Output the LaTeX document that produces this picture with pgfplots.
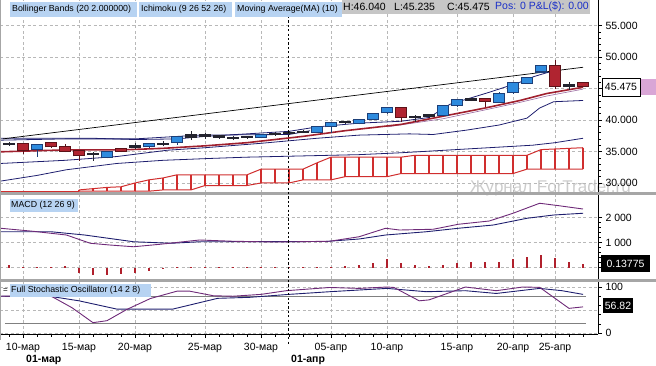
\documentclass[border=0pt]{standalone}
\usepackage{fontspec}
\setmainfont{Liberation Sans}
\usepackage{pgfplots}
\usepackage{pgfplotstable}
\pgfplotsset{compat=1.18}

\definecolor{bluec}{HTML}{2E8BDE}
\definecolor{bluee}{HTML}{1C3F78}
\definecolor{redc}{HTML}{B02430}
\definecolor{rede}{HTML}{5C1218}
\definecolor{darkc}{HTML}{23232E}
\definecolor{navy}{HTML}{1E1E6E}
\definecolor{purp}{HTML}{6E2A78}
\definecolor{mared}{HTML}{A0202E}
\definecolor{cloudc}{HTML}{D02E2E}
\definecolor{gridc}{HTML}{B8B8B8}
\definecolor{sepc}{HTML}{A6A6A6}
\definecolor{hdrblue}{HTML}{B7D3F2}
\definecolor{hdrgray}{HTML}{C6C6C6}
\definecolor{pinkbox}{HTML}{D9A6D6}
\definecolor{histc}{HTML}{B0202C}
\definecolor{posblue}{HTML}{1A2FC8}

% candles: index o h l c
\pgfplotstableread{
i o h l c
1 35.45 36.1 34.2 35.98
6 34.2 35.0 33.9 34.9
9 35.8 36.3 35.6 36.2
11 36.5 37.4 36.1 37.25
17 37.25 37.7 37.1 37.6
21 38.14 39.0 38.0 38.94
22 39.0 39.6 38.0 39.5
24 39.5 40.1 39.3 40.0
25 40.2 41.0 40.0 40.9
26 41.2 42.0 41.0 41.85
30 40.8 42.3 40.6 42.2
31 42.4 43.3 42.0 43.1
34 42.9 44.4 42.8 44.2
35 44.4 45.9 44.2 45.8
36 45.9 46.8 45.7 46.6
37 47.7 48.6 47.4 48.55
}\bull
\pgfplotstableread{
i o h l c
0 36.14 36.3 34.6 35.24
2 36.3 36.5 35.6 35.8
3 35.7 36.2 34.9 35.15
4 35.1 35.3 33.5 34.4
7 35.35 35.5 34.9 35.1
27 41.85 41.9 39.7 40.45
33 43.3 43.4 42.1 43.0
38 48.55 49.6 44.9 45.4
40 45.85 46.04 45.235 45.475
}\bear
\pgfplotstableread{
i o h l c
-1 36.15 36.5 35.9 36.25
5 34.55 34.9 33.5 34.65
8 35.75 36.3 35.4 35.85
10 36.15 36.6 35.8 36.25
12 37.3 38.2 36.8 37.6
13 37.5 37.9 37.0 37.6
14 37.25 37.6 37.0 37.45
15 37.15 37.4 36.8 37.25
16 37.25 37.5 37.0 37.35
18 37.75 38.1 37.5 37.85
19 37.95 38.3 37.6 38.05
20 38.1 38.4 37.9 38.2
23 39.6 39.9 39.4 39.7
28 40.45 40.8 39.7 40.55
29 40.55 41.0 40.3 40.8
32 43.2 43.5 43.0 43.3
39 45.3 46.1 44.8 45.55
}\doji
% Ichimoku cloud: senkou A (top), senkou B (bot)
\pgfplotstableread{
i top bot
4 28.9 28.7
5 29.1 28.7
6 29.3 28.7
7 29.4 28.7
8 30.0 28.7
9 30.5 28.7
10 30.8 28.9
11 31.3 28.9
12 31.3 28.9
13 31.3 29.6
14 31.3 29.6
15 31.3 29.6
16 31.3 29.6
17 32.2 30.0
18 32.2 30.0
19 32.2 30.0
20 32.2 30.5
21 33.2 30.5
22 34.1 30.5
23 34.1 31.0
24 34.1 31.0
25 34.1 31.0
26 34.1 31.0
27 34.1 31.5
28 34.4 31.5
29 34.4 31.5
30 34.4 31.5
31 34.4 31.5
32 34.4 31.5
33 34.4 31.5
34 34.4 31.5
35 34.4 31.5
36 34.4 32.2
37 35.3 32.2
38 35.4 32.2
39 35.5 32.2
40 35.6 32.2
}\cloud
% MACD histogram
\pgfplotstableread{
i v
-1 0.10
0 0.02
1 0.02
2 0.02
3 0.06
4 -0.20
5 -0.28
6 -0.30
7 -0.25
8 -0.20
9 -0.12
10 -0.04
11 0.02
12 0.03
13 0.02
14 0.02
15 0.02
16 0.02
17 0.02
18 0.01
19 0.01
20 0.02
21 0.03
22 0.04
23 0.08
24 0.12
25 0.20
26 0.34
27 0.20
28 0.10
29 0.07
30 0.10
31 0.20
32 0.23
33 0.23
34 0.23
35 0.34
36 0.43
37 0.50
38 0.40
39 0.23
40 0.138
}\hist

\pgfplotsset{
  panel/.style={
    scale only axis, width=598pt, xmin=-1.643, xmax=41.07,
    axis y line*=right, y axis line style={-, black, line width=0.6pt},
    tick align=outside,
    xtick={0,4,8,13,17,22,26,31,35,38},
    xmajorgrids, ymajorgrids,
    major grid style={gridc, dash pattern=on 3pt off 2.5pt, line width=0.5pt},
    yticklabel style={font=\fontsize{10.5}{12}\selectfont},
    ytick style={black, line width=0.5pt},
    major tick length=4pt, minor tick length=2.5pt,
  },
  noxaxis/.style={axis x line*=bottom, x axis line style={draw=none},
    xticklabels={}, xtick style={draw=none}},
  candle/.style={draw=none, forget plot, error bars/y dir=plus, error bars/y explicit, error bars/error mark=none},
}

\begin{document}
\begin{tikzpicture}
% watermark
\node[anchor=base west, inner sep=0, text=gray!40, font=\fontsize{17}{19}\selectfont] at (470pt,-192pt) {Журнал ForTrader.ru};

% ---------------- main price panel ----------------
\begin{axis}[panel, noxaxis, at={(0pt,0pt)}, anchor=north west, height=193pt,
  ymin=28.41, ymax=59.05,
  ytick={30,35,40,45,50,55}, yticklabels={30.000,35.000,40.000,,50.000,55.000},
  minor y tick num=4]
% cloud (hatch as vertical segments from senkou B to senkou A)
\addplot[cloudc, line width=1.2pt, -, quiver={u=0, v=\thisrow{top}-\thisrow{bot}}]
  table[x=i, y=bot] {\cloud};
\addplot[cloudc, line width=1pt] table[x=i, y=top] {\cloud};
\addplot[cloudc, line width=1pt] coordinates {(-1.6,28.7) (4,28.7)};
\addplot[cloudc, line width=1pt] table[x=i, y=bot] {\cloud};
% bands and lines
\addplot[navy, line width=0.8pt] coordinates {(-1.6,30.3) (1,31.2) (3.1,32.1) (6.7,33.1) (10,33.6) (13.4,33.9) (16,34.1) (20,34.3) (24,34.5) (27,34.8) (31.7,35.4) (36.4,36.0) (38,36.4) (40,37.1)};
\addplot[navy, line width=0.8pt] coordinates {(-1.6,33.1) (3,33.6) (6.7,34.2) (10.3,35.2) (13,35.6) (17,36.3) (21,37.1) (24,37.6) (27.6,37.8) (29.3,37.7) (31.7,38.4) (34,39.2) (36,40.3) (36.9,41.9) (37.9,42.9) (40,43.1)};
\addplot[navy, line width=0.8pt] coordinates {(-1.6,36.8) (3,37.0) (8,37.0) (12.6,37.6) (19,37.7) (20.5,38.3)};
\addplot[navy, line width=0.8pt] coordinates {(-1.6,37.1) (5,37.1) (8,36.9) (11,37.0) (13,37.4) (16,37.8) (19,38.2) (21,38.9) (24,39.5) (27,39.8) (29,40.4) (30.5,42.5) (33.3,44.4) (35.5,46.0) (36.5,46.9) (37.4,47.5) (38,47.8)};
\addplot[black, line width=0.7pt] coordinates {(-1.45,37.0) (40,48.37)};
\addplot[purp!70, line width=0.6pt] coordinates {(26,38.9) (30,40.2) (33,41.6) (35.5,42.8) (37.4,43.8) (40,44.9)};
\addplot[mared, line width=1.6pt] coordinates {(-1.6,34.95) (3,35.25) (7,35.25) (10,35.5) (13,35.9) (16,36.4) (20,37.4) (23,38.3) (27,39.3) (30,40.6) (33,41.9) (35.5,43.1) (37.4,44.2) (40,45.2)};
% wicks
\addplot[candle, error bars/error bar style={draw=bluee, line width=0.9pt}]
  table[x=i, y=l, y error plus expr=\thisrow{h}-\thisrow{l}] {\bull};
\addplot[candle, error bars/error bar style={draw=rede, line width=0.9pt}]
  table[x=i, y=l, y error plus expr=\thisrow{h}-\thisrow{l}] {\bear};
\addplot[candle, error bars/error bar style={draw=darkc, line width=0.9pt}]
  table[x=i, y=l, y error plus expr=\thisrow{h}-\thisrow{l}] {\doji};
% bodies
\addplot[candle, error bars/error bar style={draw=bluee, line width=11.4pt}]
  table[x=i, y expr=\thisrow{o}-0.16, y error plus expr=\thisrow{c}-\thisrow{o}+0.32] {\bull};
\addplot[candle, error bars/error bar style={draw=bluec, line width=9.4pt}]
  table[x=i, y=o, y error plus expr=\thisrow{c}-\thisrow{o}] {\bull};
\addplot[candle, error bars/error bar style={draw=rede, line width=11.4pt}]
  table[x=i, y expr=\thisrow{c}-0.16, y error plus expr=\thisrow{o}-\thisrow{c}+0.32] {\bear};
\addplot[candle, error bars/error bar style={draw=redc, line width=9.4pt}]
  table[x=i, y=c, y error plus expr=\thisrow{o}-\thisrow{c}] {\bear};
\addplot[candle, error bars/error bar style={draw=darkc, line width=11.4pt}]
  table[x=i, y expr=\thisrow{o}-0.12, y error plus expr=\thisrow{c}-\thisrow{o}+0.24] {\doji};
\end{axis}

% ---------------- MACD panel ----------------
\begin{axis}[panel, noxaxis, at={(0pt,-195pt)}, anchor=north west, height=84pt,
  ymin=-0.46, ymax=2.9,
  ytick={0,1,2}, yticklabels={,1 000,2 000}, minor y tick num=4]
\addplot[histc, ycomb, line width=1.1pt] table[x=i, y=v] {\hist};
\addplot[navy, line width=0.9pt] coordinates {(-1.6,1.43) (2,1.43) (4.4,1.3) (7.9,1.03) (10.6,0.97) (12.6,1.03) (21.6,1.04) (24,1.14) (25.9,1.3) (28.8,1.43) (31.1,1.57) (33.6,1.7) (36,1.97) (37.9,2.1) (40,2.17)};
\addplot[purp, line width=0.9pt] coordinates {(-1.6,1.57) (0.7,1.45) (3.1,1.3) (4.8,0.97) (6.2,0.9) (7.9,0.83) (9.8,0.93) (12.6,1.1) (15,1.05) (18,1.02) (21.9,1.05) (24,1.23) (25.9,1.57) (26.9,1.5) (29.3,1.53) (31.1,1.73) (33.3,1.86) (35,2.17) (36.9,2.57) (38.3,2.47) (40,2.34)};
\end{axis}

% ---------------- Stochastic panel ----------------
\begin{axis}[panel, at={(0pt,-282pt)}, anchor=north west, height=52pt,
  ymin=-2.17, ymax=110.9,
  axis x line*=bottom, x axis line style={-, black, line width=0.8pt},
  xticklabels={10-мар,15-мар,20-мар,25-мар,30-мар,05-апр,10-апр,15-апр,20-апр,25-апр},
  xticklabel style={font=\fontsize{10.5}{12}\selectfont, yshift=-2pt},
  minor xtick={-1,0,...,40}, xtick style={black, line width=0.5pt},
  ytick={0,100}, yticklabels={0,100}, minor y tick num=4,
  extra y ticks={50}, extra y tick labels={}, extra y tick style={major tick length=0pt}]
\addplot[gray, line width=0.7pt] coordinates {(-1.3,80) (40.2,80)};
\addplot[gray, line width=0.7pt] coordinates {(-1.3,20) (40.2,20)};
\addplot[navy, line width=0.9pt] coordinates {(-1.6,80) (1.9,80) (4,70) (6.7,52) (10.7,52) (13.9,75.4) (16.2,77.6) (19,84) (21.9,89.8) (26,97) (28.8,89.8) (31.6,92) (33.8,86) (36.9,97) (38.5,92) (40,84)};
\addplot[purp, line width=0.9pt] coordinates {(-1.6,80) (1.9,82) (3.5,55) (5,22.5) (6,26.8) (7.4,51) (9.1,75) (11,91) (11.9,91) (13.6,81) (15,80) (17,84) (18.8,92) (21.9,99) (24,97) (26,100) (26.5,99) (28.3,70) (29,72) (31.6,100) (33.8,92) (35.7,100) (36.9,99.3) (39,53.6) (40,56.82)};
\end{axis}

% separators and frame
\fill[sepc] (0pt,-192pt) rectangle (656pt,-195pt);
\fill[sepc] (0pt,-279pt) rectangle (656pt,-282pt);
\draw[sepc, line width=1pt] (0.5pt,0pt) -- (0.5pt,-340pt);
% month separator (01-apr)
\draw[black, line width=0.8pt, dash pattern=on 2.2pt off 2.2pt] (288pt,-16pt) -- (288pt,-345pt);

% header
\fill[hdrblue] (10pt,-2pt) rectangle (137pt,-17pt);
\fill[hdrblue] (139pt,-2pt) rectangle (232pt,-17pt);
\fill[hdrblue] (235pt,-2pt) rectangle (342pt,-17pt);
\fill[hdrgray] (342pt,0pt) rectangle (590pt,-14pt);
\node[anchor=west, inner sep=0, font=\fontsize{8.8}{10}\selectfont] at (12pt,-9.5pt) {Bollinger Bands (20 2.000000)};
\node[anchor=west, inner sep=0, font=\fontsize{8.8}{10}\selectfont] at (141pt,-9.5pt) {Ichimoku (9 26 52 26)};
\node[anchor=west, inner sep=0, font=\fontsize{8.8}{10}\selectfont] at (237pt,-9.5pt) {Moving Average(MA) (10)};
\node[anchor=west, inner sep=0, font=\fontsize{10.5}{12}\selectfont] at (343pt,-7pt) {H:46.040};
\node[anchor=west, inner sep=0, font=\fontsize{10.5}{12}\selectfont] at (394pt,-7pt) {L:45.235};
\node[anchor=west, inner sep=0, font=\fontsize{10.5}{12}\selectfont] at (447pt,-7pt) {C:45.475};
\node[anchor=west, inner sep=0, text=posblue, font=\fontsize{10.5}{12}\selectfont] at (495pt,-7pt) {Pos: 0 P\&L(\$): 0.00};

% panel labels
\fill[hdrblue] (10pt,-199pt) rectangle (78pt,-212pt);
\node[anchor=west, inner sep=0, font=\fontsize{8.8}{10}\selectfont] at (11pt,-205.5pt) {MACD (12 26 9)};
\fill[hdrblue] (10pt,-284pt) rectangle (151pt,-297pt);
\node[anchor=west, inner sep=0, font=\fontsize{8.8}{10}\selectfont] at (11pt,-290.5pt) {Full Stochastic Oscillator (14 2 8)};
\node[anchor=west, inner sep=0, font=\fontsize{8}{9}\selectfont] at (3pt,-291pt) {=};

% right value boxes
\fill[pinkbox] (640pt,-79pt) rectangle (656pt,-95pt);
\draw[black, fill=white, line width=0.8pt] (602pt,-78pt) rectangle (640pt,-96pt);
\node[inner sep=0, font=\fontsize{10.5}{12}\selectfont] at (621pt,-87pt) {45.475};
\fill[black] (601pt,-255pt) rectangle (650pt,-272pt);
\node[inner sep=0, text=white, font=\fontsize{10.5}{12}\selectfont] at (625.5pt,-263.5pt) {0.13775};
\fill[black] (603pt,-298pt) rectangle (633pt,-313pt);
\node[inner sep=0, text=white, font=\fontsize{10.5}{12}\selectfont] at (618pt,-305.5pt) {56.82};

% second row of date labels
\node[anchor=west, inner sep=0, font=\fontsize{10.5}{12}\selectfont\bfseries] at (26pt,-360pt) {01-мар};
\node[anchor=west, inner sep=0, font=\fontsize{10.5}{12}\selectfont\bfseries] at (291pt,-360pt) {01-апр};

\pgfresetboundingbox
\path[use as bounding box] (0pt,0pt) rectangle (656pt,-365pt);
\end{tikzpicture}
\end{document}
